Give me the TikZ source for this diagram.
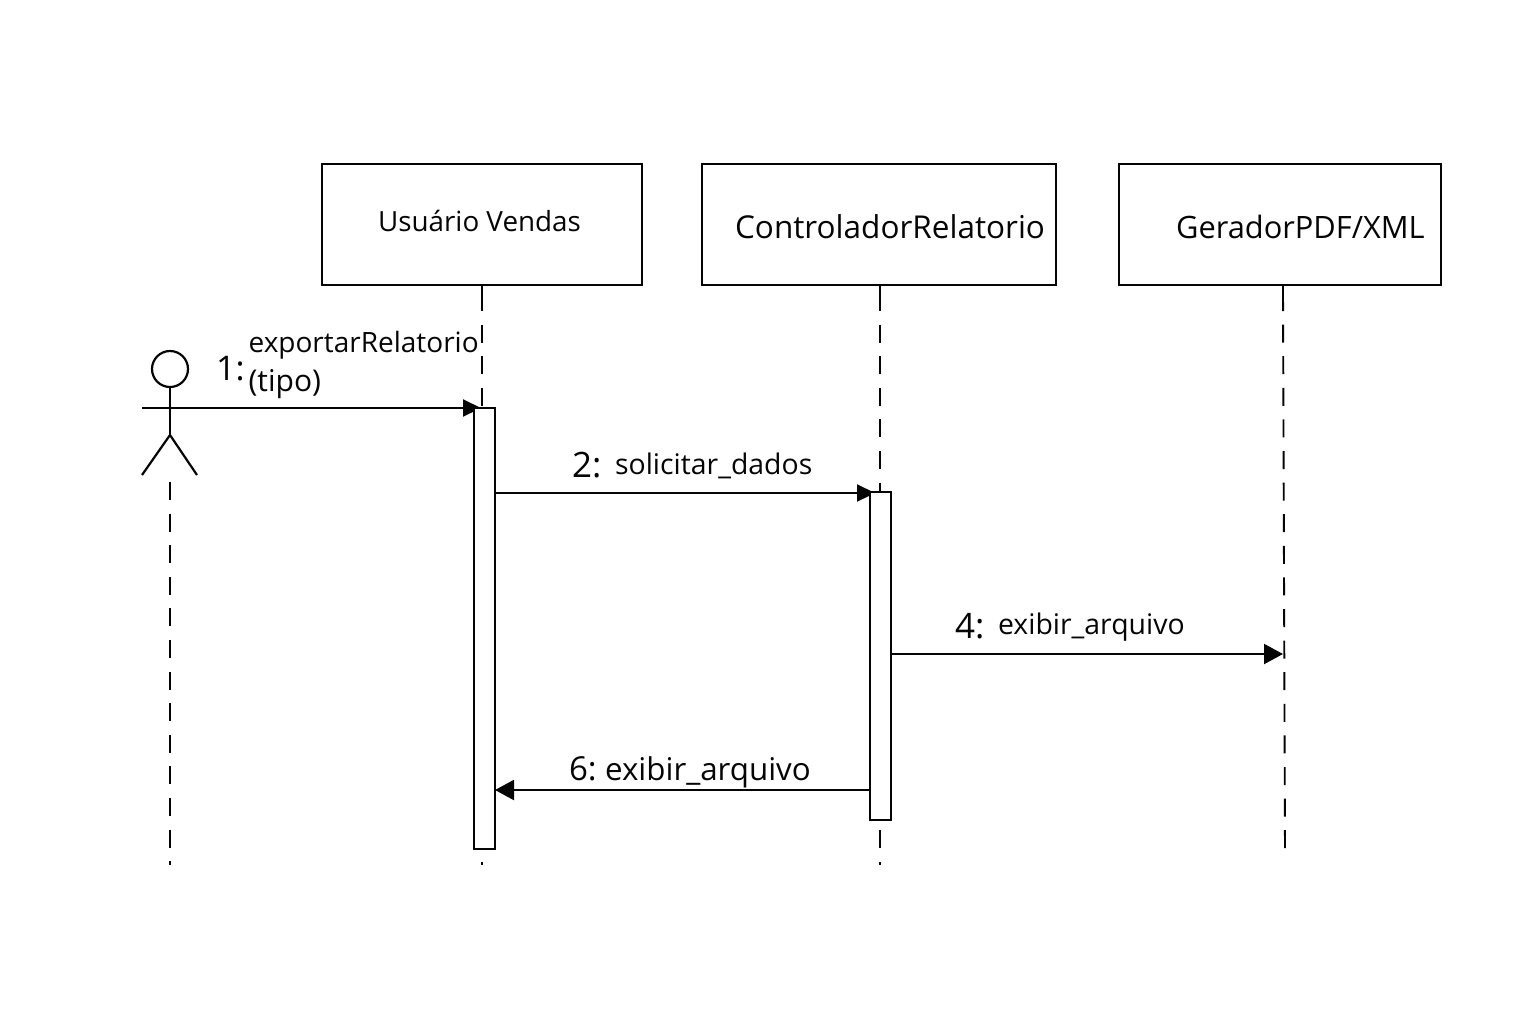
\documentclass[tikz,border=0pt]{standalone}
\usepackage{fontspec}
\setmainfont{Open Sans}
\usetikzlibrary{positioning,arrows.meta,calc}
\definecolor{ink}{HTML}{050505}

\begin{document}
\begin{tikzpicture}[x=.5pt,y=-.5pt,line width=1.1pt,draw=ink,text=ink,
  objbox/.style={draw,fill=white,minimum width=#1,minimum height=60.5pt,inner sep=0pt},
  lifeline/.style={line width=.95pt,dash pattern=on 9pt off 6.8pt},
  activation/.style={draw,fill=white,minimum width=10.5pt,inner sep=0pt},
  msg/.style={-{Triangle[length=9pt,width=8.5pt]}},
  msgbig/.style={-{Triangle[length=9.5pt,width=10pt]}},
  txt/.style={anchor=base west,inner sep=0pt,font=\fontsize{#1}{#1}\selectfont},
  txt/.default=14]
\useasboundingbox (0,0) rectangle (1536,1024);
% objects
\node[objbox=160pt] (usuario) at (482,224.5){};
\node[objbox=177pt] (controlador) at (879,224.5){};
\node[objbox=161pt] (gerador) at (1280,224.5){};
\node[txt=13.9] (usuariotxt) at (377,231){Usuário Vendas};
\node[txt=15.75] (controladortxt) at (734,238){ControladorRelatorio};
\node[txt=15.4] (geradortxt) at (1175,238){GeradorPDF/XML};
% lifelines
\coordinate (startA) at (170,482);
\coordinate (endA) at (170,865);
\coordinate (startU) at (482,293);
\coordinate (endU) at (482,865);
\coordinate (startC) at (880,293);
\coordinate (endC) at (880,865);
\coordinate (startG) at (1283,293);
\coordinate (endG) at (1285,855);
\draw[lifeline] (startA)--(endA);
\draw[lifeline] (startU)--(endU);
\draw[lifeline] (startC)--(endC);
\draw[lifeline] (startG)--(endG);
\draw[line width=.95pt] (usuario.south -| startU)--(startU);
\draw[line width=.95pt] (controlador.south -| startC)--(startC);
\draw[line width=.95pt] (gerador.south -| startG)--(startG);
% actor
\node[draw,circle,minimum size=18pt,inner sep=0pt] (head) at (170,369){};
\coordinate (hip) at (170,435);
\coordinate (armL) at (142,408);
\coordinate (legL) at (142,475);
\coordinate (legR) at (197,475);
\draw (head)--(hip);
\draw (legL)--(hip)--(legR);
% messages into the activations, which cover their tips
\coordinate (m1) at (481,408);
\coordinate (m2a) at (495,493);
\coordinate (m2b) at (875,493);
\draw[msg] (armL)--(m1);
\draw[msg] (m2a)--(m2b);
% activations
\node[activation,minimum height=220.5pt] (barU) at (484.5,628.5){};
\node[activation,minimum height=164pt] (barC) at (880.5,656){};
% messages
\coordinate (m4a) at (891,654);
\coordinate (m4b) at (1283,654);
\coordinate (m6a) at (870,790);
\coordinate (m6b) at (495,790);
\draw[msgbig] (m4a)--(m4b);
\draw[msgbig] (m6a)--(m6b);
% labels
\node[txt=17] (n1) at (215,380){1:};
\node[txt] (l1a) at (247.5,352){exportarRelatorio};
\node[txt=15] (l1b) at (247.5,391){(tipo)};
\node[txt=17.5] (n2) at (571,477){2:};
\node[txt=14.2] (l2) at (614,474){solicitar\_dados};
\node[txt=17.5] (n4) at (954,638){4:};
\node[txt=14.2] (l4) at (997,634){exibir\_arquivo};
\node[txt=16.5] (n6) at (568,780){6:};
\node[txt=15.66] (l6) at (604,780){exibir\_arquivo};
\end{tikzpicture}
\end{document}
